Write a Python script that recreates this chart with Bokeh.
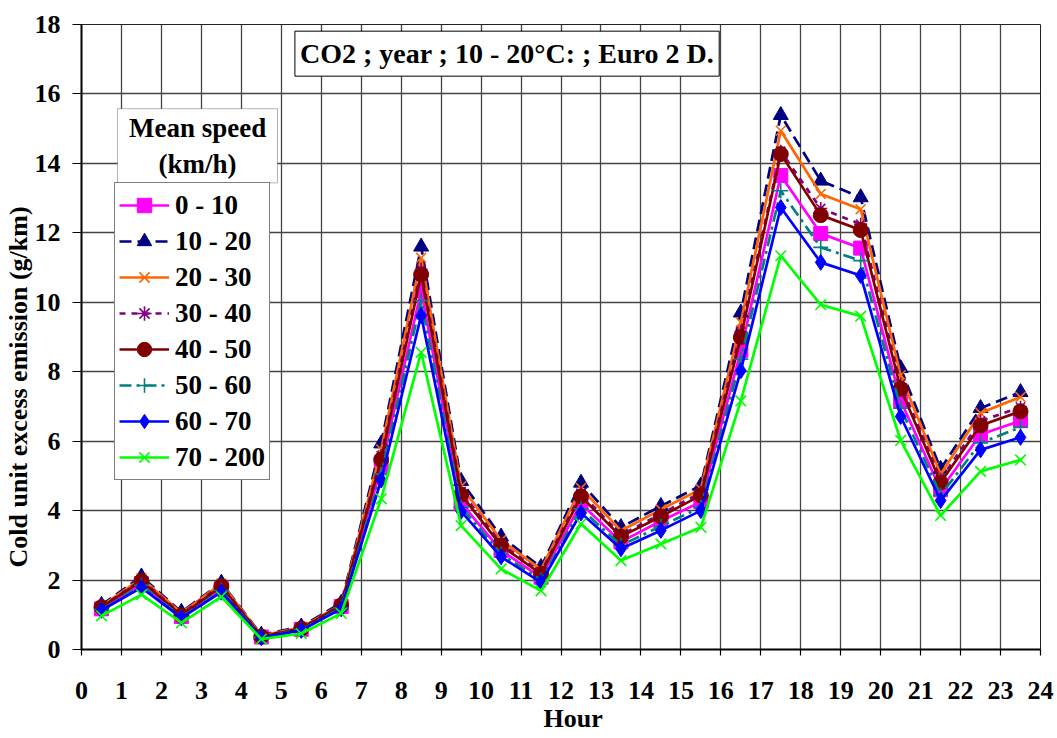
from bokeh.plotting import figure
from bokeh.models import (Legend, LegendItem, Label, FixedTicker, Range1d,
                          ColumnDataSource, BoxAnnotation, Title)
from bokeh.embed import file_html
from bokeh.resources import INLINE

hours = [0.5, 1.5, 2.5, 3.5, 4.5, 5.5, 6.5, 7.5, 8.5, 9.5, 10.5, 11.5,
         12.5, 13.5, 14.5, 15.5, 16.5, 17.5, 18.5, 19.5, 20.5, 21.5, 22.5, 23.5]
x_ticks = list(range(0, 25))
y_ticks = list(range(0, 19, 2))

s_0_10 = [1.17, 1.90, 0.95, 1.75, 0.36, 0.58, 1.24, 5.23, 10.34, 4.22, 2.85, 2.08,
          4.20, 3.10, 3.70, 4.25, 8.60, 13.65, 11.98, 11.56, 7.17, 4.60, 6.19, 6.59]
s_10_20 = [1.28, 2.10, 1.08, 1.92, 0.42, 0.66, 1.34, 5.93, 11.60, 4.85, 3.25, 2.37,
           4.80, 3.52, 4.13, 4.72, 9.70, 15.39, 13.50, 13.02, 8.10, 5.20, 6.95, 7.41]
s_20_30 = [1.25, 2.05, 1.05, 1.90, 0.40, 0.63, 1.30, 5.76, 11.28, 4.70, 3.15, 2.30,
           4.65, 3.42, 4.03, 4.62, 9.42, 14.94, 13.12, 12.68, 7.90, 5.05, 6.81, 7.27]
s_30_40 = [1.23, 2.00, 1.02, 1.85, 0.38, 0.61, 1.28, 5.58, 10.95, 4.55, 3.05, 2.22,
           4.50, 3.30, 3.90, 4.52, 9.15, 14.35, 12.70, 12.25, 7.65, 4.90, 6.58, 6.98]
s_40_50 = [1.22, 1.97, 0.98, 1.82, 0.37, 0.60, 1.27, 5.47, 10.80, 4.46, 2.99, 2.18,
           4.41, 3.25, 3.83, 4.44, 8.99, 14.27, 12.51, 12.08, 7.51, 4.81, 6.45, 6.86]
s_50_60 = [1.15, 1.85, 0.93, 1.70, 0.35, 0.57, 1.20, 5.05, 10.05, 4.10, 2.75, 2.00,
           4.05, 3.00, 3.55, 4.10, 8.36, 13.21, 11.58, 11.20, 6.95, 4.45, 5.95, 6.40]
s_60_70 = [1.13, 1.78, 0.91, 1.65, 0.34, 0.55, 1.17, 4.88, 9.62, 3.98, 2.67, 1.93,
           3.93, 2.90, 3.43, 4.00, 8.03, 12.73, 11.15, 10.77, 6.71, 4.29, 5.75, 6.11]
s_70_200 = [0.97, 1.58, 0.77, 1.52, 0.30, 0.46, 1.04, 4.34, 8.56, 3.57, 2.32, 1.69,
            3.62, 2.56, 3.04, 3.52, 7.16, 11.34, 9.93, 9.60, 6.02, 3.86, 5.13, 5.46]

series_names = ["0 - 10", "10 - 20", "20 - 30", "30 - 40", "40 - 50", "50 - 60", "60 - 70", "70 - 200"]
series_values = [s_0_10, s_10_20, s_20_30, s_30_40, s_40_50, s_50_60, s_60_70, s_70_200]
colors = ["#FF00FF", "#000080", "#FF6600", "#800080", "#800000", "#008080", "#0000FF", "#00FF00"]
markers = ["square", "triangle", "x", "asterisk", "circle", "cross", "diamond", "x"]
dashes = ["solid", "12 6", "solid", "6 6", "solid", "12 5 3 5", "solid", "solid"]
msizes = [14, 15, 14, 13, 15, 15, 16, 15]

FONT = "Liberation Serif"

p = figure(width=1057, height=738, x_range=Range1d(0, 24), y_range=Range1d(0, 18),
           output_backend="svg", toolbar_location=None,
           min_border_left=81, min_border_right=17, min_border_top=24, min_border_bottom=89)
p.background_fill_color = "white"
p.border_fill_color = "white"
p.outline_line_color = "#222222"
p.outline_line_width = 1

p.xaxis.ticker = FixedTicker(ticks=x_ticks)
p.yaxis.ticker = FixedTicker(ticks=y_ticks)
p.xgrid.ticker = FixedTicker(ticks=x_ticks)
p.ygrid.ticker = FixedTicker(ticks=y_ticks)
for g in (p.xgrid, p.ygrid):
    g.grid_line_color = "#444444"
    g.grid_line_width = 1.3

for ax in (p.xaxis, p.yaxis):
    ax.axis_line_color = "black"
    ax.axis_line_width = 2
    ax.major_tick_line_color = "black"
    ax.major_tick_line_width = 1.2
    ax.major_tick_in = 0
    ax.minor_tick_line_color = None
    ax.major_label_text_font = FONT
    ax.major_label_text_font_style = "bold"
    ax.major_label_text_font_size = "26px"
    ax.major_label_text_color = "black"

p.xaxis.major_tick_out = 6
p.xaxis.major_label_standoff = 26
p.yaxis.major_tick_out = 9
p.yaxis.major_label_standoff = 12

# axis titles as side-panel titles (allow offset along the axis)
x_title = Title(text="Hour", align="left", offset=462, standoff=1, vertical_align="bottom",
                text_font=FONT, text_font_style="bold", text_font_size="26px", text_color="black")
p.add_layout(x_title, "below")
y_title = Title(text="Cold unit excess emission (g/km)", align="left", offset=82, standoff=-3,
                text_font=FONT, text_font_style="bold", text_font_size="26px", text_color="black")
p.add_layout(y_title, "left")

items = []
for name, vals, c, m, d, ms in zip(series_names, series_values, colors, markers, dashes, msizes):
    src = ColumnDataSource(data=dict(x=hours, y=vals))
    ln = p.line("x", "y", source=src, line_color=c, line_width=2.7, line_dash=d)
    if m in ("x", "cross", "asterisk"):
        sc = p.scatter("x", "y", source=src, marker=m, size=ms, line_color=c, line_width=1.6)
    else:
        sc = p.scatter("x", "y", source=src, marker=m, size=ms, fill_color=c, line_color=c)
    items.append(LegendItem(label=name, renderers=[ln, sc]))

legend = Legend(items=items, location=(33, 169))
legend.label_text_font = FONT
legend.label_text_font_style = "bold"
legend.label_text_font_size = "27px"
legend.label_text_color = "black"
legend.glyph_width = 50
legend.glyph_height = 36
legend.label_height = 36
legend.label_standoff = 6
legend.spacing = 0
legend.padding = 4
legend.margin = 0
legend.border_line_color = "black"
legend.border_line_width = 1
legend.background_fill_color = "white"
legend.background_fill_alpha = 1.0
p.add_layout(legend, "center")

title_lbl = Label(x=10.65, y=17.16, text="CO2 ; year ; 10 - 20°C: ; Euro 2 D.",
                  text_align="center", text_baseline="middle",
                  text_font=FONT, text_font_style="bold", text_font_size="28px",
                  text_color="black", background_fill_color="white",
                  border_line_color="black", border_line_width=1, padding=(5, 7))
p.add_layout(title_lbl)

head_box = BoxAnnotation(left=0.90, right=4.905, top=15.575, bottom=13.44,
                         fill_color="white", fill_alpha=1.0,
                         line_color="black", line_width=1)
p.add_layout(head_box)
head_lbl = Label(x=2.905, y=14.51, text="Mean speed\n(km/h)",
                 text_align="center", text_baseline="middle",
                 text_font=FONT, text_font_style="bold", text_font_size="27px",
                 text_color="black")
p.add_layout(head_lbl)

open("out.html", "w").write(file_html(p, INLINE))
